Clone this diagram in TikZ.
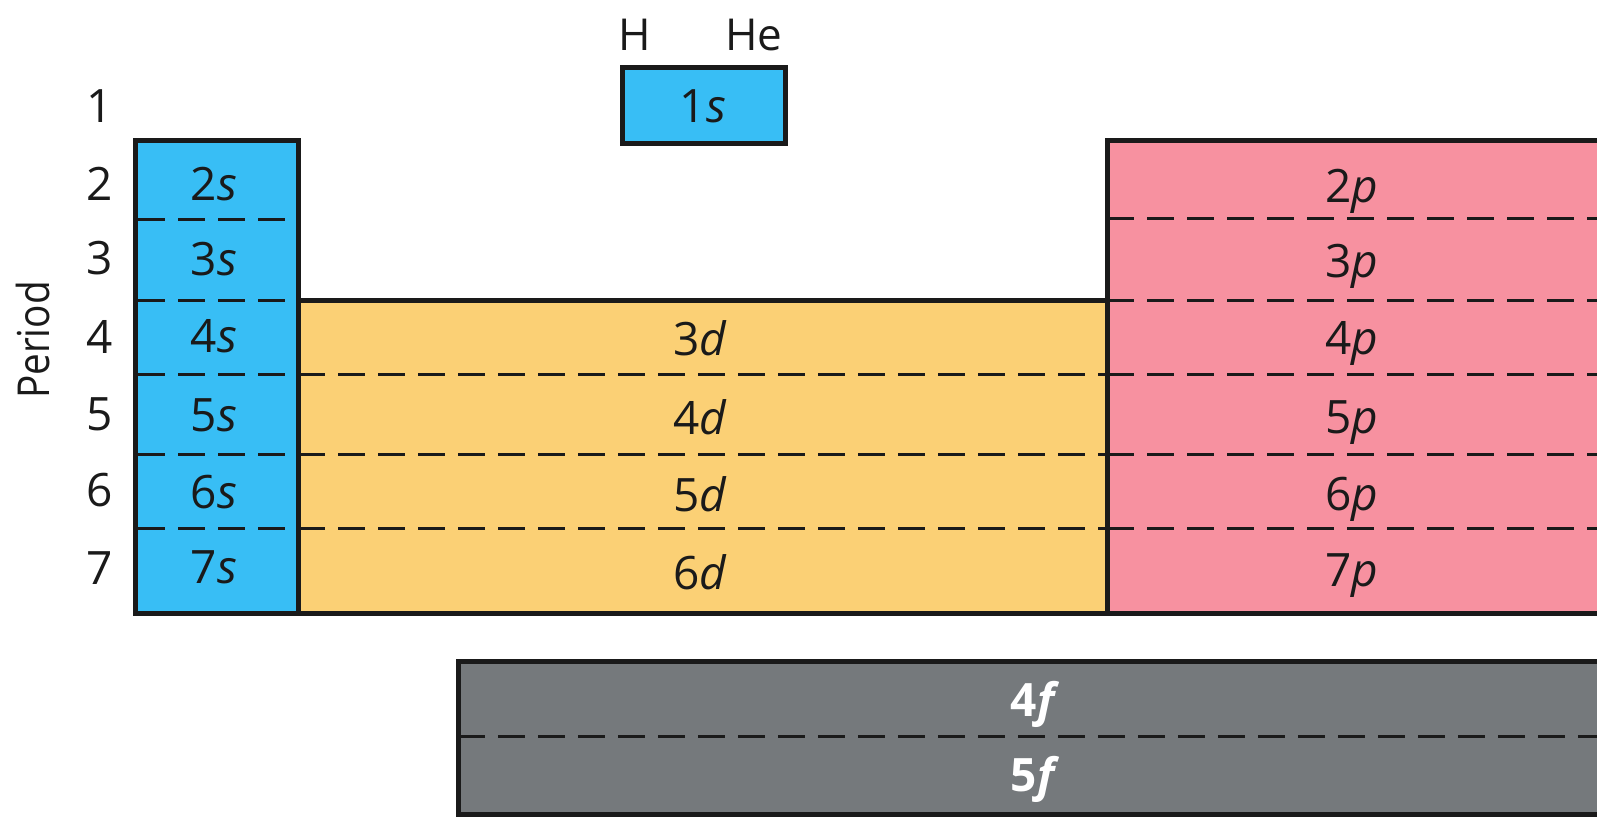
\documentclass[tikz,border=0pt]{standalone}
\usepackage{fontspec}
\setmainfont{Open Sans}
\newfontfamily\narrowsans{Open Sans}[FakeStretch=0.88]
\definecolor{sblue}{HTML}{38BEF5}
\definecolor{dyellow}{HTML}{FBD075}
\definecolor{ppink}{HTML}{F791A0}
\definecolor{fgray}{HTML}{75797C}
\definecolor{ink}{HTML}{1A1A1A}
\tikzset{
  lbl/.style={font=\fontsize{23}{27}\selectfont, anchor=base, inner sep=0pt, text=ink},
  elbl/.style={lbl, font=\fontsize{22}{26}\selectfont},
  nlbl/.style={lbl, font=\narrowsans\fontsize{22}{26}\selectfont},
  wlbl/.style={lbl, font=\fontsize{23}{27}\selectfont\bfseries, text=white},
  border/.style={line width=2.5pt, draw=ink},
  sepline/.style={line width=1.5pt, dash pattern=on 13.5pt off 6.5pt, draw=ink},
}
\begin{document}
\begin{tikzpicture}[x=0.5pt,y=-0.5pt]
\useasboundingbox (0,0) rectangle (1597,817);
\clip (0,0) rectangle (1597,817);
% fills
\fill[sblue] (622,68) rectangle (785,144);
\fill[sblue] (135,141) rectangle (298,614);
\fill[dyellow] (298,301) rectangle (1107,614);
\fill[ppink] (1107,141) rectangle (1640,614);
\fill[fgray] (458,662) rectangle (1640,815);
% dashed separators
\foreach \yy in {220,301,375,455,529} {
  \draw[sepline] (138,\yy) -- (298,\yy);
}
\foreach \yy in {375,455,529} {
  \draw[sepline] (298,\yy) -- (1107,\yy);
}
\foreach \yy in {219,301,375,455,529} {
  \draw[sepline] (1107,\yy) -- (1640,\yy);
}
\draw[sepline] (458,737) -- (1640,737);
% borders
\draw[border] (622,68) rectangle (785,144);
\draw[border] (135,141) rectangle (298,614);
\draw[border] (298,301) rectangle (1107,614);
\draw[border] (1107,141) rectangle (1640,614);
\draw[border] (458,662) rectangle (1640,815);
% element labels
\node[elbl] (H) at (635,51) {H};
\node[elbl] (He) at (754,51) {He};
\node[lbl] (l1s) at (703,122.5) {1\textit{s}};
% period axis
\node[nlbl, anchor=center, rotate=90] (period) at (33,340) {Period};
\node[lbl] (p1) at (100,122.5) {1};
\node[lbl] (p2) at (100,200.5) {2};
\node[lbl] (p3) at (100,274.5) {3};
\node[lbl] (p4) at (100,353.5) {4};
\node[lbl] (p5) at (100,430.5) {5};
\node[lbl] (p6) at (100,506.5) {6};
\node[lbl] (p7) at (100,584.5) {7};
% s block
\node[lbl] (s2) at (214,200.5) {2\textit{s}};
\node[lbl] (s3) at (214,275.5) {3\textit{s}};
\node[lbl] (s4) at (214,352.5) {4\textit{s}};
\node[lbl] (s5) at (214,431.5) {5\textit{s}};
\node[lbl] (s6) at (214,508.5) {6\textit{s}};
\node[lbl] (s7) at (214,583.5) {7\textit{s}};
% d block
\node[lbl] (d3) at (700,355.5) {3\textit{d}};
\node[lbl] (d4) at (700,434.5) {4\textit{d}};
\node[lbl] (d5) at (700,511.5) {5\textit{d}};
\node[lbl] (d6) at (700,589.5) {6\textit{d}};
% p block
\node[lbl] (pp2) at (1352,202.5) {2\textit{p}};
\node[lbl] (pp3) at (1352,277.5) {3\textit{p}};
\node[lbl] (pp4) at (1352,354.5) {4\textit{p}};
\node[lbl] (pp5) at (1352,433.5) {5\textit{p}};
\node[lbl] (pp6) at (1352,510.5) {6\textit{p}};
\node[lbl] (pp7) at (1352,586.5) {7\textit{p}};
% f block
\node[wlbl] (f4) at (1035,716.5) {4\textit{f}};
\node[wlbl] (f5) at (1035,791.5) {5\textit{f}};
\end{tikzpicture}
\end{document}
